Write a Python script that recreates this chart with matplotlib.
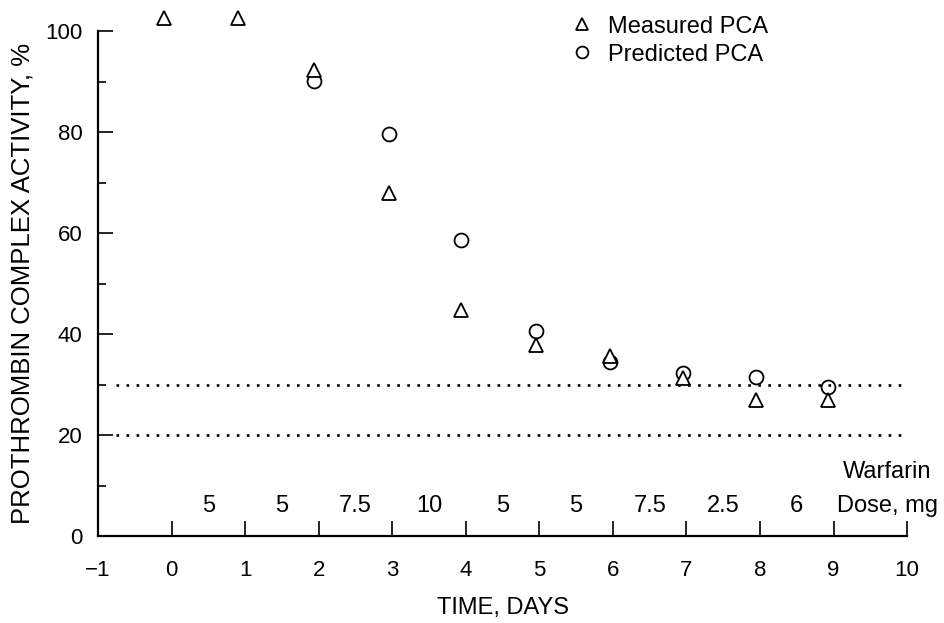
import numpy as np
import matplotlib
matplotlib.use("Agg")
import matplotlib.pyplot as plt
from matplotlib.ticker import MultipleLocator

plt.rcParams['font.family'] = ['Liberation Sans', 'DejaVu Sans']

# data
days = [0, 1, 2, 3, 4, 5, 6, 7, 8, 9]
x_offset = [-0.1, -0.1, -0.07, -0.05, -0.07, -0.04, -0.04, -0.05, -0.05, -0.07]
measured = [102.6, 102.6, 92.2, 68.0, 44.8, 37.8, 35.6, 31.2, 27.0, 27.0]
predicted = [None, None, 90.2, 79.6, 58.6, 40.6, 34.4, 32.2, 31.4, 29.6]
doses = ["5", "5", "7.5", "10", "5", "5", "7.5", "2.5", "6"]
target_range = [20, 30]

fig = plt.figure(figsize=(9.44, 6.23), dpi=100)
ax = fig.add_axes([0.1038, 0.1396, 0.8572, 0.8106])

xs = np.array(days) + np.array(x_offset)
ax.plot(xs, measured, linestyle='none', marker='^', markersize=10,
        markerfacecolor='white', markeredgecolor='black', markeredgewidth=1.3,
        clip_on=False, zorder=4, label='Measured PCA')
pred = np.array([np.nan if v is None else v for v in predicted], dtype=float)
ax.plot(xs, pred, linestyle='none', marker='o', markersize=10,
        markerfacecolor='none', markeredgecolor='black', markeredgewidth=1.3,
        clip_on=False, zorder=3, label='Predicted PCA')

ax.hlines(target_range, -0.75, 9.95, colors='black', linewidth=1.9,
          linestyles=(0, (1, 2.8)), zorder=2)

# warfarin doses between days
for i, d in enumerate(doses):
    ax.text(i + 0.5, 6, d, ha='center', va='center', fontsize=17)
ax.text(9.73, 12.7, "Warfarin", ha='center', va='center', fontsize=17)
ax.text(9.73, 6, "Dose, mg", ha='center', va='center', fontsize=17)

ax.set_xlim(-1, 10)
ax.set_ylim(0, 100)
ax.spines['top'].set_visible(False)
ax.spines['right'].set_visible(False)
ax.spines['left'].set_linewidth(1.6)
ax.spines['bottom'].set_linewidth(1.6)

ax.xaxis.set_major_locator(MultipleLocator(1))
ax.yaxis.set_major_locator(MultipleLocator(20))
ax.yaxis.set_minor_locator(MultipleLocator(10))
ax.tick_params(axis='both', which='major', direction='in', length=11,
               width=1.2, labelsize=16)
ax.tick_params(axis='y', which='minor', direction='in', length=6, width=1.2)
ax.tick_params(axis='x', pad=17)
ax.tick_params(axis='y', pad=11)

ax.set_xlabel("TIME, DAYS", fontsize=17, labelpad=12)
ax.set_ylabel("PROTHROMBIN COMPLEX ACTIVITY, %", fontsize=18.5, labelpad=8)

ax.legend(loc='upper left', bbox_to_anchor=(0.594, 0.99),
          bbox_transform=fig.transFigure, frameon=False, fontsize=17,
          handlelength=1.0, handletextpad=0.6, labelspacing=0.25,
          borderaxespad=0, markerscale=0.85)

fig.savefig("out.png", dpi=100)
